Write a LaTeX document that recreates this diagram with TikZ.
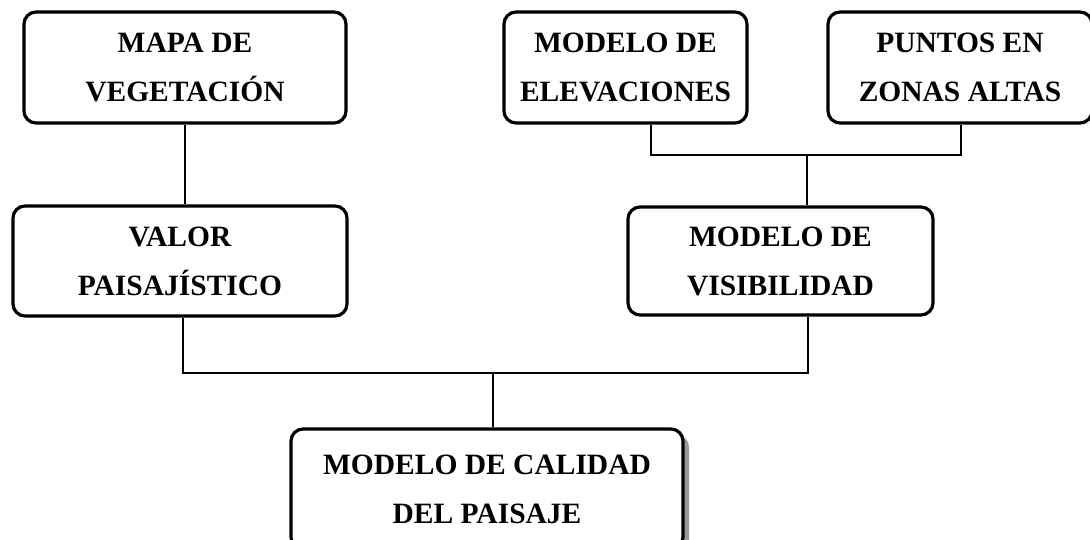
\documentclass[tikz,border=0pt]{standalone}
\usepackage{fontspec}
\setmainfont{Liberation Serif}
\usetikzlibrary{positioning,shadows}

\begin{document}
\begin{tikzpicture}[x=1pt,y=-1pt,
caja/.style={draw,line width=3.2pt,rounded corners=12pt,align=center,
font=\fontsize{29.5}{49}\selectfont\bfseries},
enlace/.style={line width=1.8pt}]
\useasboundingbox (0,0) rectangle (1090,540);
\node[caja,minimum width=322pt,minimum height=111pt] (mapa) at (185,67.5) {MAPA DE\\VEGETACIÓN};
\node[caja,minimum width=243pt,minimum height=111pt] (elev) at (625.5,67.5) {MODELO DE\\ELEVACIONES};
\node[caja,minimum width=264pt,minimum height=111pt] (puntos) at (960,67.5) {PUNTOS EN\\ZONAS ALTAS};
\node[caja,minimum width=334pt,minimum height=110pt] (valor) at (180,261) {VALOR\\PAISAJÍSTICO};
\node[caja,minimum width=305pt,minimum height=108pt] (visib) at (780.5,261) {MODELO DE\\VISIBILIDAD};
\node[caja,minimum width=392pt,minimum height=120pt,fill=white,
drop shadow={shadow xshift=6pt,shadow yshift=-6pt,fill=gray!80,opacity=1}] (calidad) at (487,489) {MODELO DE CALIDAD\\DEL PAISAJE};
\coordinate (e1) at (651,155);
\coordinate (p1) at (961,155);
\coordinate (v1) at (807,155);
\coordinate (a1) at (183,373);
\coordinate (b1) at (808,373);
\coordinate (c1) at (493,373);
\draw[enlace] (mapa.south) -- (mapa.south |- valor.north);
\draw[enlace] (elev.south -| e1) -- (e1) -- (p1) -- (puntos.south -| p1);
\draw[enlace] (v1) -- (visib.north -| v1);
\draw[enlace] (valor.south -| a1) -- (a1) -- (b1) -- (visib.south -| b1);
\draw[enlace] (c1) -- (calidad.north -| c1);
\end{tikzpicture}
\end{document}
